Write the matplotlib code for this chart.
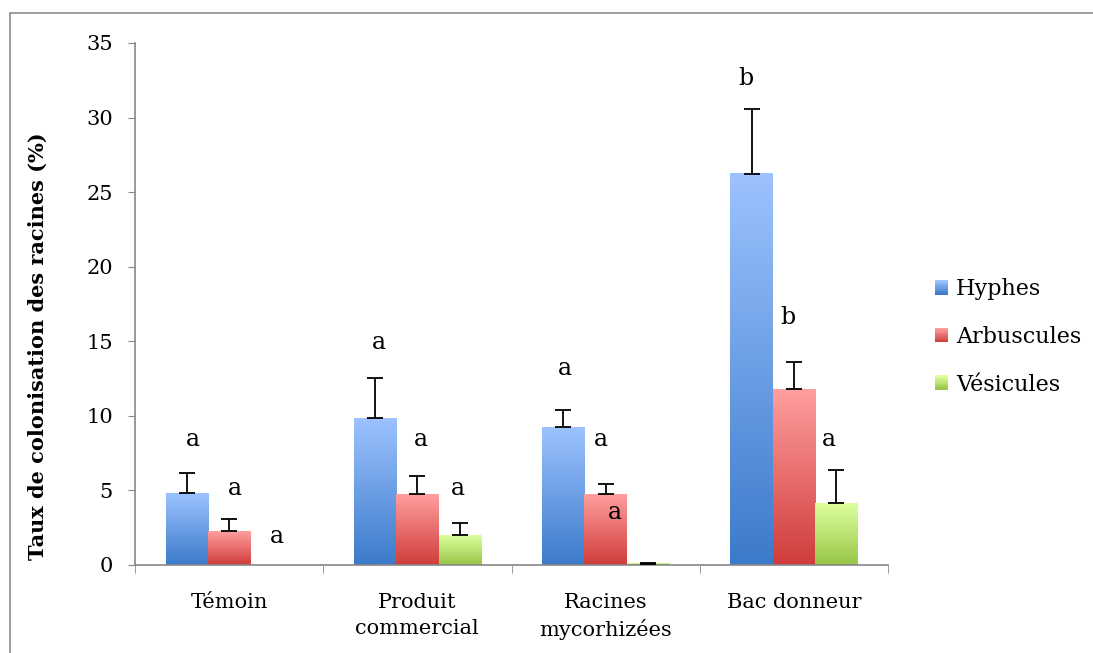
import numpy as np
import matplotlib
matplotlib.use("Agg")
import matplotlib.pyplot as plt
from matplotlib.patches import Rectangle
from matplotlib.legend_handler import HandlerBase
from matplotlib.colors import LinearSegmentedColormap

categories = ["Témoin", "Produit\ncommercial", "Racines\nmycorhizées", "Bac donneur"]
series = ["Hyphes", "Arbuscules", "Vésicules"]
hyphes = [4.8, 9.85, 9.25, 26.25]
arbuscules = [2.25, 4.75, 4.75, 11.8]
vesicules = [0.0, 2.0, 0.08, 4.15]
err_hyphes = [1.4, 2.7, 1.15, 4.3]
err_arbuscules = [0.85, 1.2, 0.65, 1.8]
err_vesicules = [0.0, 0.8, 0.07, 2.25]
letters_hyphes = ["a", "a", "a", "b"]
letters_arbuscules = ["a", "a", "a", "b"]
letters_vesicules = ["a", "a", "a", "a"]
letter_y_hyphes = [8.4, 14.9, 13.2, 32.6]
letter_y_arbuscules = [5.15, 8.4, 8.4, 16.6]
letter_y_vesicules = [1.9, 5.15, 3.55, 8.4]
letter_dx_hyphes = [-0.194, -0.207, -0.218, -0.255]
letter_dx_arbuscules = [0.03, 0.016, -0.027, -0.032]
letter_dx_vesicules = [0.253, 0.213, 0.048, 0.186]

values = [hyphes, arbuscules, vesicules]
errors = [err_hyphes, err_arbuscules, err_vesicules]
letters = [letters_hyphes, letters_arbuscules, letters_vesicules]
letter_y = [letter_y_hyphes, letter_y_arbuscules, letter_y_vesicules]
letter_dx = [letter_dx_hyphes, letter_dx_arbuscules, letter_dx_vesicules]

grad = [("#9cc2ff", "#3c7bca"), ("#ff9e9e", "#cf3d3b"), ("#ddff9e", "#98c647")]
cmaps = [LinearSegmentedColormap.from_list("g%d" % i, [grad[i][1], grad[i][0]]) for i in range(3)]

plt.rcParams["font.family"] = ["DejaVu Serif"]

fig = plt.figure(figsize=(10.93, 6.53), dpi=100)
fig.patches.append(Rectangle((10 / 1093, -0.05), 1.2, 1 - 13 / 653 + 0.05,
                             transform=fig.transFigure, fill=False,
                             edgecolor="#8c8c8c", lw=1.2))
ax = fig.add_axes([135 / 1093, 1 - 565 / 653, (888 - 135) / 1093, (565 - 43) / 653])

x = np.arange(len(categories))
w = 0.225
for i, (vals, errs) in enumerate(zip(values, errors)):
    xs = x + (i - 1) * w
    bars = ax.bar(xs, vals, w, color="none", edgecolor="none")
    for b, v in zip(bars, vals):
        if v <= 0:
            continue
        x0 = b.get_x()
        img = np.linspace(0, 1, 100).reshape(-1, 1)
        ax.imshow(img, cmap=cmaps[i], origin="lower", aspect="auto",
                  extent=(x0, x0 + w, 0, v), zorder=2)
    keep = [k for k in range(len(vals)) if errs[k] > 0]
    ax.errorbar(xs[keep], np.array(vals)[keep],
                yerr=[np.zeros(len(keep)), np.array(errs)[keep]], fmt="none",
                ecolor="black", elinewidth=1.3, capsize=6, capthick=1.3, zorder=3)
    for j in range(len(categories)):
        ax.text(x[j] + letter_dx[i][j], letter_y[i][j], letters[i][j],
                ha="center", va="center", fontsize=17)

ax.set_xlim(-0.5, len(categories) - 0.5)
ax.set_ylim(0, 35)
ax.set_yticks(np.arange(0, 36, 5))
ax.tick_params(axis="y", labelsize=15, direction="out", length=5, color="#888888", pad=11)
ax.set_xticks(x)
ax.set_xticklabels(categories, fontsize=15, linespacing=1.45)
ax.tick_params(axis="x", length=0, pad=20)
ax.set_xticks(np.arange(-0.5, len(categories), 1), minor=True)
ax.tick_params(axis="x", which="minor", length=6, direction="out", color="#888888")
for s in ["top", "right"]:
    ax.spines[s].set_visible(False)
for s in ["left", "bottom"]:
    ax.spines[s].set_color("#888888")
    ax.spines[s].set_linewidth(1.2)
ax.set_ylabel("Taux de colonisation des racines (%)", fontsize=15, fontweight="bold")
ax.yaxis.set_label_coords(-0.116, 0.42)


class HandlerGrad(HandlerBase):
    def create_artists(self, legend, orig_handle, xdescent, ydescent, width, height, fontsize, trans):
        cm = cmaps[orig_handle.idx]
        n = 12
        arts = []
        for k in range(n):
            r = Rectangle((-xdescent, -ydescent + height * k / n), width, height / n + 0.3,
                          facecolor=cm(k / (n - 1)), edgecolor="none", transform=trans)
            arts.append(r)
        return arts


class H:
    def __init__(self, idx):
        self.idx = idx


handles = [H(i) for i in range(3)]
fig.legend(handles, series, loc="center left", bbox_to_anchor=(915 / 1093, 1 - 337 / 653),
           frameon=False, fontsize=16, handlelength=0.6, handleheight=0.6,
           handletextpad=0.35, labelspacing=1.15, handler_map={H: HandlerGrad()})

fig.savefig("out.png", dpi=100)
